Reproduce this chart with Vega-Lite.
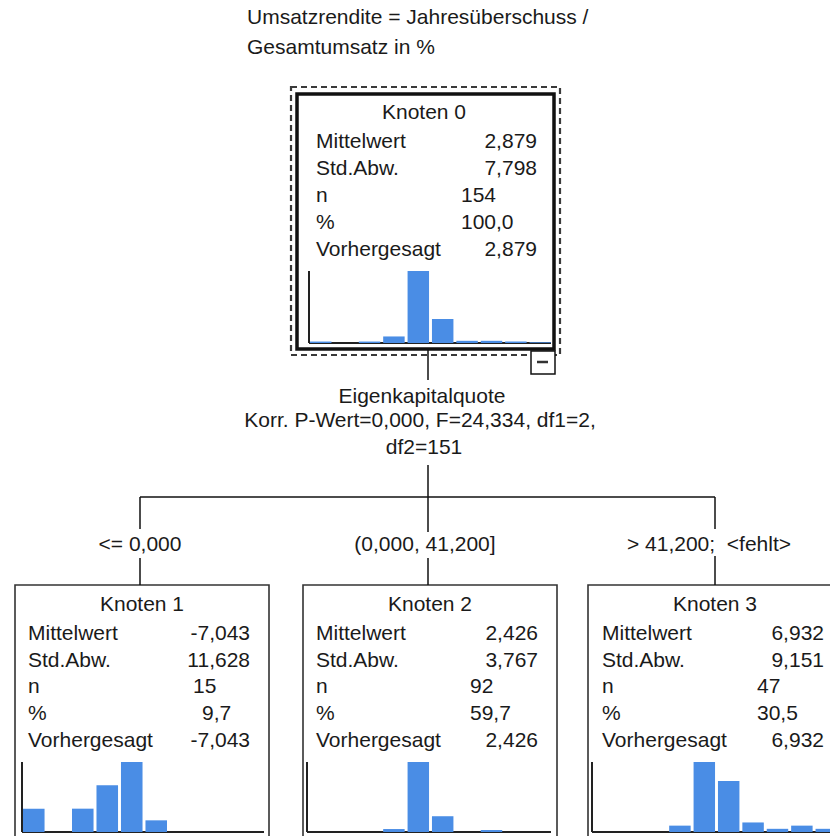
{
  "$schema": "https://vega.github.io/schema/vega-lite/v6.json",
  "width": 830,
  "height": 836,
  "autosize": {"type": "none"},
  "padding": 0,
  "background": "white",
  "config": {"view": {"stroke": null}},
  "datasets": {
    "boxes": [
      {"kind": "frame", "x": 291, "y": 87, "x2": 560, "y2": 355},
      {"kind": "selected", "x": 297, "y": 94, "x2": 554, "y2": 349},
      {"kind": "node", "x": 15, "y": 585, "x2": 269, "y2": 850},
      {"kind": "node", "x": 303, "y": 585, "x2": 557, "y2": 850},
      {"kind": "node", "x": 588, "y": 585, "x2": 845, "y2": 850},
      {"kind": "toggle", "x": 531, "y": 351, "x2": 555, "y2": 374}
    ],
    "lines": [
      {"kind": "edge", "x": 428, "y": 349, "x2": 428, "y2": 380},
      {"kind": "edge", "x": 428, "y": 465, "x2": 428, "y2": 497},
      {"kind": "edge", "x": 140, "y": 497, "x2": 715, "y2": 497},
      {"kind": "edge", "x": 140, "y": 497, "x2": 140, "y2": 529},
      {"kind": "edge", "x": 428, "y": 497, "x2": 428, "y2": 532},
      {"kind": "edge", "x": 715, "y": 497, "x2": 715, "y2": 529},
      {"kind": "edge", "x": 140, "y": 558, "x2": 140, "y2": 585},
      {"kind": "edge", "x": 428, "y": 558, "x2": 428, "y2": 585},
      {"kind": "edge", "x": 715, "y": 556, "x2": 715, "y2": 585},
      {"kind": "minus", "x": 537, "y": 362, "x2": 548, "y2": 362},
      {"kind": "axis", "x": 309, "y": 271, "x2": 309, "y2": 343},
      {"kind": "axis", "x": 309, "y": 343, "x2": 551, "y2": 343},
      {"kind": "axis", "x": 22, "y": 762, "x2": 22, "y2": 832},
      {"kind": "axis", "x": 22, "y": 832, "x2": 264, "y2": 832},
      {"kind": "axis", "x": 307, "y": 762, "x2": 307, "y2": 832},
      {"kind": "axis", "x": 307, "y": 832, "x2": 551, "y2": 832},
      {"kind": "axis", "x": 592, "y": 762, "x2": 592, "y2": 832},
      {"kind": "axis", "x": 592, "y": 832, "x2": 830, "y2": 832}
    ],
    "texts": [
      {"align": "left", "x": 247, "y": 18, "text": "Umsatzrendite = Jahresüberschuss /"},
      {"align": "left", "x": 247, "y": 48, "text": "Gesamtumsatz in %"},
      {"align": "center", "x": 424, "y": 113, "text": "Knoten 0"},
      {"align": "left", "x": 316, "y": 142, "text": "Mittelwert"},
      {"align": "left", "x": 316, "y": 169, "text": "Std.Abw."},
      {"align": "left", "x": 316, "y": 196, "text": "n"},
      {"align": "left", "x": 316, "y": 223, "text": "%"},
      {"align": "left", "x": 316, "y": 250, "text": "Vorhergesagt"},
      {"align": "right", "x": 537, "y": 142, "text": "2,879"},
      {"align": "right", "x": 537, "y": 169, "text": "7,798"},
      {"align": "left", "x": 461, "y": 196, "text": "154"},
      {"align": "left", "x": 461, "y": 223, "text": "100,0"},
      {"align": "right", "x": 537, "y": 250, "text": "2,879"},
      {"align": "center", "x": 422, "y": 397, "text": "Eigenkapitalquote"},
      {"align": "center", "x": 420, "y": 421, "text": "Korr. P-Wert=0,000, F=24,334, df1=2,"},
      {"align": "center", "x": 424, "y": 448, "text": "df2=151"},
      {"align": "center", "x": 140, "y": 545, "text": "<= 0,000"},
      {"align": "center", "x": 425, "y": 545, "text": "(0,000, 41,200]"},
      {"align": "center", "x": 709, "y": 545, "text": "> 41,200;\u00a0 <fehlt>"},
      {"align": "center", "x": 142, "y": 605, "text": "Knoten 1"},
      {"align": "left", "x": 28, "y": 634, "text": "Mittelwert"},
      {"align": "left", "x": 28, "y": 661, "text": "Std.Abw."},
      {"align": "left", "x": 28, "y": 687, "text": "n"},
      {"align": "left", "x": 28, "y": 714, "text": "%"},
      {"align": "left", "x": 28, "y": 741, "text": "Vorhergesagt"},
      {"align": "right", "x": 250, "y": 634, "text": "-7,043"},
      {"align": "right", "x": 250, "y": 661, "text": "11,628"},
      {"align": "left", "x": 193, "y": 687, "text": "15"},
      {"align": "left", "x": 202, "y": 714, "text": "9,7"},
      {"align": "right", "x": 250, "y": 741, "text": "-7,043"},
      {"align": "center", "x": 430, "y": 605, "text": "Knoten 2"},
      {"align": "left", "x": 316, "y": 634, "text": "Mittelwert"},
      {"align": "left", "x": 316, "y": 661, "text": "Std.Abw."},
      {"align": "left", "x": 316, "y": 687, "text": "n"},
      {"align": "left", "x": 316, "y": 714, "text": "%"},
      {"align": "left", "x": 316, "y": 741, "text": "Vorhergesagt"},
      {"align": "right", "x": 538, "y": 634, "text": "2,426"},
      {"align": "right", "x": 538, "y": 661, "text": "3,767"},
      {"align": "left", "x": 470, "y": 687, "text": "92"},
      {"align": "left", "x": 470, "y": 714, "text": "59,7"},
      {"align": "right", "x": 538, "y": 741, "text": "2,426"},
      {"align": "center", "x": 715, "y": 605, "text": "Knoten 3"},
      {"align": "left", "x": 602, "y": 634, "text": "Mittelwert"},
      {"align": "left", "x": 602, "y": 661, "text": "Std.Abw."},
      {"align": "left", "x": 602, "y": 687, "text": "n"},
      {"align": "left", "x": 602, "y": 714, "text": "%"},
      {"align": "left", "x": 602, "y": 741, "text": "Vorhergesagt"},
      {"align": "right", "x": 824, "y": 634, "text": "6,932"},
      {"align": "right", "x": 824, "y": 661, "text": "9,151"},
      {"align": "left", "x": 757, "y": 687, "text": "47"},
      {"align": "left", "x": 757, "y": 714, "text": "30,5"},
      {"align": "right", "x": 824, "y": 741, "text": "6,932"}
    ],
    "hist": [
      {"node": 0, "bin": 1, "count": 2}, {"node": 0, "bin": 2, "count": 0}, {"node": 0, "bin": 3, "count": 2}, {"node": 0, "bin": 4, "count": 9}, {"node": 0, "bin": 5, "count": 99},
      {"node": 0, "bin": 6, "count": 33}, {"node": 0, "bin": 7, "count": 3}, {"node": 0, "bin": 8, "count": 3}, {"node": 0, "bin": 9, "count": 2}, {"node": 0, "bin": 10, "count": 1},
      {"node": 1, "bin": 1, "count": 2}, {"node": 1, "bin": 2, "count": 0}, {"node": 1, "bin": 3, "count": 2}, {"node": 1, "bin": 4, "count": 4}, {"node": 1, "bin": 5, "count": 6},
      {"node": 1, "bin": 6, "count": 1}, {"node": 1, "bin": 7, "count": 0}, {"node": 1, "bin": 8, "count": 0}, {"node": 1, "bin": 9, "count": 0}, {"node": 1, "bin": 10, "count": 0},
      {"node": 2, "bin": 1, "count": 0}, {"node": 2, "bin": 2, "count": 0}, {"node": 2, "bin": 3, "count": 0}, {"node": 2, "bin": 4, "count": 3}, {"node": 2, "bin": 5, "count": 71},
      {"node": 2, "bin": 6, "count": 16}, {"node": 2, "bin": 7, "count": 0}, {"node": 2, "bin": 8, "count": 2}, {"node": 2, "bin": 9, "count": 0}, {"node": 2, "bin": 10, "count": 0},
      {"node": 3, "bin": 1, "count": 0}, {"node": 3, "bin": 2, "count": 0}, {"node": 3, "bin": 3, "count": 0}, {"node": 3, "bin": 4, "count": 2}, {"node": 3, "bin": 5, "count": 22},
      {"node": 3, "bin": 6, "count": 16}, {"node": 3, "bin": 7, "count": 3}, {"node": 3, "bin": 8, "count": 1}, {"node": 3, "bin": 9, "count": 2}, {"node": 3, "bin": 10, "count": 1}
    ]
  },
  "layer": [
    {
      "encoding": {
        "x": {"field": "x", "type": "quantitative", "scale": {"domain": [0, 830], "nice": false, "zero": false}, "axis": null},
        "y": {"field": "y", "type": "quantitative", "scale": {"domain": [0, 836], "nice": false, "zero": false, "reverse": true}, "axis": null}
      },
      "layer": [
        {
          "data": {"name": "boxes"},
          "transform": [{"filter": {"field": "kind", "equal": "frame"}}],
          "mark": {"type": "rect", "filled": false, "stroke": "#3a3a3a", "strokeWidth": 2.2, "strokeDash": [6, 4]},
          "encoding": {"x2": {"field": "x2"}, "y2": {"field": "y2"}}
        },
        {
          "data": {"name": "boxes"},
          "transform": [{"filter": {"field": "kind", "equal": "selected"}}],
          "mark": {"type": "rect", "filled": false, "stroke": "#111111", "strokeWidth": 3.5},
          "encoding": {"x2": {"field": "x2"}, "y2": {"field": "y2"}}
        },
        {
          "data": {"name": "boxes"},
          "transform": [{"filter": {"field": "kind", "equal": "node"}}],
          "mark": {"type": "rect", "filled": false, "stroke": "#333333", "strokeWidth": 1.6},
          "encoding": {"x2": {"field": "x2"}, "y2": {"field": "y2"}}
        },
        {
          "data": {"name": "boxes"},
          "transform": [{"filter": {"field": "kind", "equal": "toggle"}}],
          "mark": {"type": "rect", "fill": "white", "stroke": "#111111", "strokeWidth": 1.5},
          "encoding": {"x2": {"field": "x2"}, "y2": {"field": "y2"}}
        },
        {
          "data": {"name": "lines"},
          "transform": [{"filter": {"field": "kind", "equal": "edge"}}],
          "mark": {"type": "rule", "stroke": "#111111", "strokeWidth": 1.5},
          "encoding": {"x2": {"field": "x2"}, "y2": {"field": "y2"}}
        },
        {
          "data": {"name": "lines"},
          "transform": [{"filter": {"field": "kind", "equal": "minus"}}],
          "mark": {"type": "rule", "stroke": "#333333", "strokeWidth": 2.5},
          "encoding": {"x2": {"field": "x2"}, "y2": {"field": "y2"}}
        },
        {
          "data": {"name": "lines"},
          "transform": [{"filter": {"field": "kind", "equal": "axis"}}],
          "mark": {"type": "rule", "stroke": "#222222", "strokeWidth": 2},
          "encoding": {"x2": {"field": "x2"}, "y2": {"field": "y2"}}
        },
        {
          "data": {"name": "texts"},
          "transform": [{"filter": {"field": "align", "equal": "left"}}],
          "mark": {"type": "text", "align": "left", "baseline": "middle", "font": "Liberation Sans", "fontSize": 21, "fill": "#1a1a1a"},
          "encoding": {"text": {"field": "text"}}
        },
        {
          "data": {"name": "texts"},
          "transform": [{"filter": {"field": "align", "equal": "right"}}],
          "mark": {"type": "text", "align": "right", "baseline": "middle", "font": "Liberation Sans", "fontSize": 21, "fill": "#1a1a1a"},
          "encoding": {"text": {"field": "text"}}
        },
        {
          "data": {"name": "texts"},
          "transform": [{"filter": {"field": "align", "equal": "center"}}],
          "mark": {"type": "text", "align": "center", "baseline": "middle", "font": "Liberation Sans", "fontSize": 21, "fill": "#1a1a1a"},
          "encoding": {"text": {"field": "text"}}
        }
      ]
    },
    {
      "data": {"name": "hist"},
      "transform": [{"filter": {"field": "node", "equal": 0}}],
      "mark": {"type": "bar", "color": "#4a8de5"},
      "encoding": {
        "x": {"field": "bin", "type": "ordinal", "axis": null, "scale": {"type": "band", "domain": [1, 2, 3, 4, 5, 6, 7, 8, 9, 10], "range": [310, 551], "paddingInner": 0.12, "paddingOuter": 0}},
        "y": {"field": "count", "type": "quantitative", "axis": null, "scale": {"nice": false, "zero": true, "range": [343, 271]}}
      }
    },
    {
      "data": {"name": "hist"},
      "transform": [{"filter": {"field": "node", "equal": 1}}],
      "mark": {"type": "bar", "color": "#4a8de5"},
      "encoding": {
        "x": {"field": "bin", "type": "ordinal", "axis": null, "scale": {"type": "band", "domain": [1, 2, 3, 4, 5, 6, 7, 8, 9, 10], "range": [23, 265], "paddingInner": 0.12, "paddingOuter": 0}},
        "y": {"field": "count", "type": "quantitative", "axis": null, "scale": {"nice": false, "zero": true, "range": [832, 762]}}
      }
    },
    {
      "data": {"name": "hist"},
      "transform": [{"filter": {"field": "node", "equal": 2}}],
      "mark": {"type": "bar", "color": "#4a8de5"},
      "encoding": {
        "x": {"field": "bin", "type": "ordinal", "axis": null, "scale": {"type": "band", "domain": [1, 2, 3, 4, 5, 6, 7, 8, 9, 10], "range": [310, 551], "paddingInner": 0.12, "paddingOuter": 0}},
        "y": {"field": "count", "type": "quantitative", "axis": null, "scale": {"nice": false, "zero": true, "range": [832, 762]}}
      }
    },
    {
      "data": {"name": "hist"},
      "transform": [{"filter": {"field": "node", "equal": 3}}],
      "mark": {"type": "bar", "color": "#4a8de5"},
      "encoding": {
        "x": {"field": "bin", "type": "ordinal", "axis": null, "scale": {"type": "band", "domain": [1, 2, 3, 4, 5, 6, 7, 8, 9, 10], "range": [596, 837], "paddingInner": 0.12, "paddingOuter": 0}},
        "y": {"field": "count", "type": "quantitative", "axis": null, "scale": {"nice": false, "zero": true, "range": [832, 762]}}
      }
    }
  ],
  "resolve": {"scale": {"x": "independent", "y": "independent"}}
}
